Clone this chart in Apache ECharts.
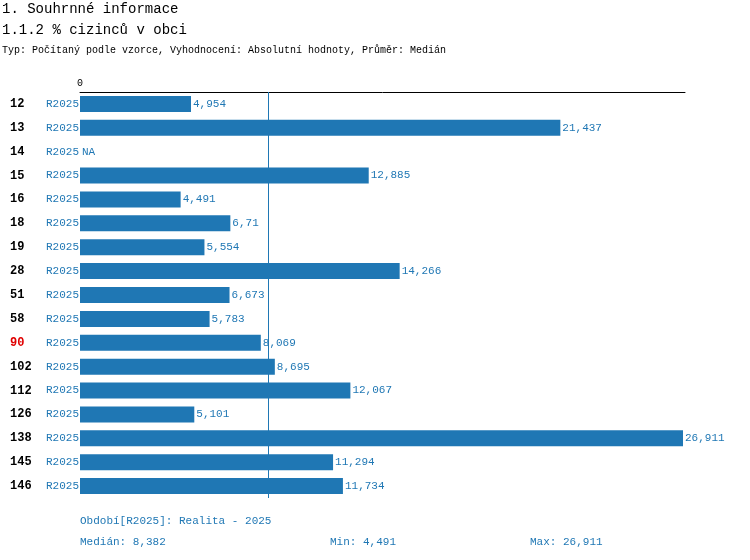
<!DOCTYPE html>
<html><head><meta charset="utf-8">
<script src="https://cdn.jsdelivr.net/npm/echarts@6/dist/echarts.min.js"></script>
<style>body{margin:0}#c{width:750px;height:560px}</style></head>
<body><div id="c"></div>
<script>
const codes = ['12','13','14','15','16','18','19','28','51','58','90','102','112','126','138','145','146'];
const periods = ['R2025','R2025','R2025','R2025','R2025','R2025','R2025','R2025','R2025','R2025','R2025','R2025','R2025','R2025','R2025','R2025','R2025'];
const values = [4.954,21.437,null,12.885,4.491,6.71,5.554,14.266,6.673,5.783,8.069,8.695,12.067,5.101,26.911,11.294,11.734];
const highlight = '90';
const median = 8.382, minV = 4.491, maxV = 26.911;
const F = 'Liberation Mono, Courier New, monospace';
const fmt = v => String(v).replace('.', ',');
const cats = codes.map((c,i)=>c+'|'+periods[i]);
const chart = echarts.init(document.getElementById('c'));
chart.setOption({
  animation:false,
  textStyle:{fontFamily:F},
  grid:{left:80,right:65,top:92,bottom:62},
  xAxis:{type:'value',position:'top',min:0,max:27,splitNumber:1,
    axisLine:{show:true,lineStyle:{color:'#000'}},axisTick:{show:false},splitLine:{show:false},
    axisLabel:{fontFamily:F,fontSize:10,color:'#000',margin:4,formatter:v=>v===0?'0':''}},
  yAxis:{type:'category',inverse:true,data:cats,axisLine:{show:false},axisTick:{show:false},
    axisLabel:{align:'left',margin:78,fontFamily:F,
      formatter:v=>{const [c,p]=v.split('|');return '{'+(c===highlight?'r':'a')+'|'+c+'}{b|'+p+'}';},
      rich:{a:{fontWeight:'bold',fontSize:12,color:'#000',width:36,fontFamily:F,padding:[0,0,0,8]},
            r:{fontWeight:'bold',fontSize:12,color:'#e00000',width:36,fontFamily:F,padding:[0,0,0,8]},
            b:{fontSize:11,color:'#1f77b4',fontFamily:F}}}},
  series:[{type:'bar',data:values.map(v=>v===null?0:v),barWidth:16,itemStyle:{color:'#1f77b4'},
    label:{show:true,position:'right',distance:2,fontFamily:F,fontSize:11,color:'#1f77b4',
      formatter:p=>values[p.dataIndex]===null?'NA':fmt(values[p.dataIndex])},
    markLine:{symbol:'none',silent:true,label:{show:false},lineStyle:{color:'#1f77b4',width:1,type:'solid'},data:[{xAxis:median}]}}],
  graphic:[
    {type:'text',left:2,top:2,style:{text:'1. Souhrnné informace',font:'14px '+F,fill:'#000'}},
    {type:'text',left:2,top:23,style:{text:'1.1.2 % cizinců v obci',font:'14px '+F,fill:'#000'}},
    {type:'text',left:2,top:45,style:{text:'Typ: Počítaný podle vzorce, Vyhodnocení: Absolutní hodnoty, Průměr: Medián',font:'10px '+F,fill:'#000'}},
    {type:'text',left:80,top:516,style:{text:'Období[R2025]: Realita - 2025',font:'11px '+F,fill:'#1f77b4'}},
    {type:'text',left:80,top:537,style:{text:'Medián: '+fmt(median),font:'11px '+F,fill:'#1f77b4'}},
    {type:'text',left:330,top:537,style:{text:'Min: '+fmt(minV),font:'11px '+F,fill:'#1f77b4'}},
    {type:'text',left:530,top:537,style:{text:'Max: '+fmt(maxV),font:'11px '+F,fill:'#1f77b4'}}
  ]
});
</script></body></html>
